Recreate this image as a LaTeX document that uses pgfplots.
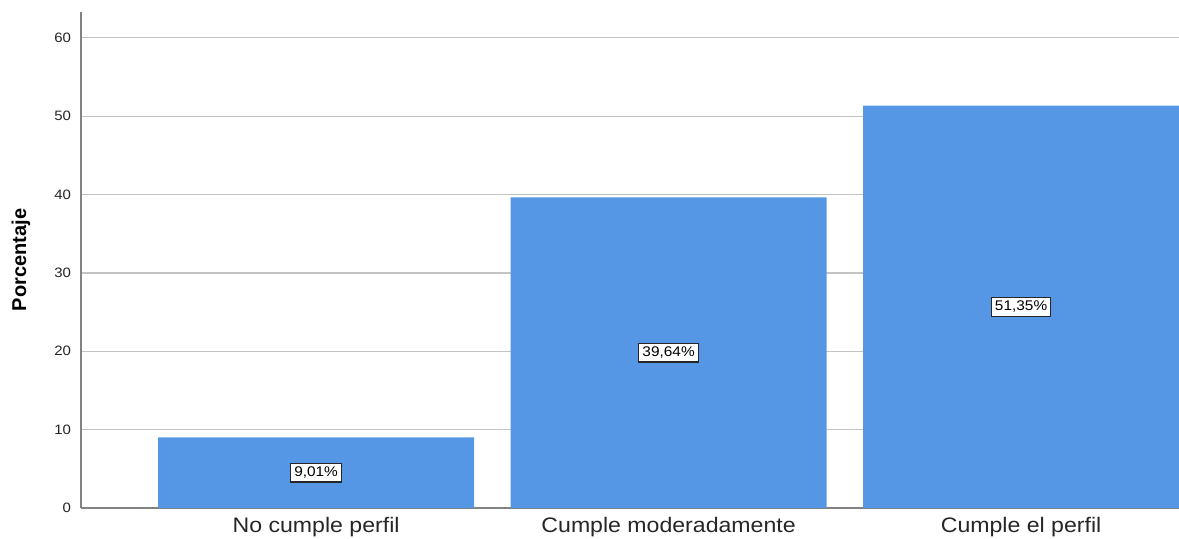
\documentclass[border=0pt]{standalone}
\usepackage{fontspec}
\setmainfont[FakeStretch=1.1]{Liberation Sans}
\newfontfamily\labelfont{Liberation Sans}
\usepackage{pgfplots}
\pgfplotsset{compat=1.18}
\definecolor{barblue}{RGB}{85,150,229}
\definecolor{gridgray}{RGB}{195,195,195}
\definecolor{axisgray}{RGB}{130,130,130}
\begin{document}
\begin{tikzpicture}
\useasboundingbox (-40.5pt,-15pt) rectangle (549pt,254pt);
\begin{axis}[
  at={(0,0)}, anchor=south west,
  scale only axis,
  width=549pt, height=248pt,
  xmin=-0.667, xmax=2.448,
  ymin=0, ymax=63.3,
  axis x line*=bottom, axis y line*=left,
  axis line style={draw=axisgray, line width=0.7pt},
  x axis line style={-}, y axis line style={-},
  xtick={0,1,2},
  xticklabels={No cumple perfil, Cumple moderadamente, Cumple el perfil},
  ytick={0,10,20,30,40,50,60},
  major tick length=0pt,
  tick style={draw=none},
  ymajorgrids,
  grid style={draw=gridgray, line width=0.6pt},
  /pgf/number format/assume math mode=true,
  yticklabel style={font=\fontsize{6.8}{8}\selectfont, text=black!85, xshift=-1.5pt},
  xticklabel style={font=\fontsize{10.5}{12}\selectfont, text=black!85, yshift=-1pt},
  ylabel={Porcentaje},
  ylabel style={font=\labelfont\bfseries\fontsize{10}{12}\selectfont,
    at={(axis description cs:-0.0546,0.5)}, anchor=center},
  ybar, bar width=158pt,
  clip=true,
]
\addplot[fill=barblue, draw=none] coordinates {(0,9.01) (1,39.64) (2,51.35)};
% value boxes at mid-height of each bar
\begin{scope}[every node/.style={draw=black!85, line width=0.6pt, fill=white,
    inner sep=1.8pt, font=\fontsize{7}{8}\selectfont}]
\node at (axis cs:0,4.505) {9,01\%};
\node at (axis cs:1,19.82) {39,64\%};
\node at (axis cs:2,25.675) {51,35\%};
\end{scope}
\end{axis}
\end{tikzpicture}
\end{document}
